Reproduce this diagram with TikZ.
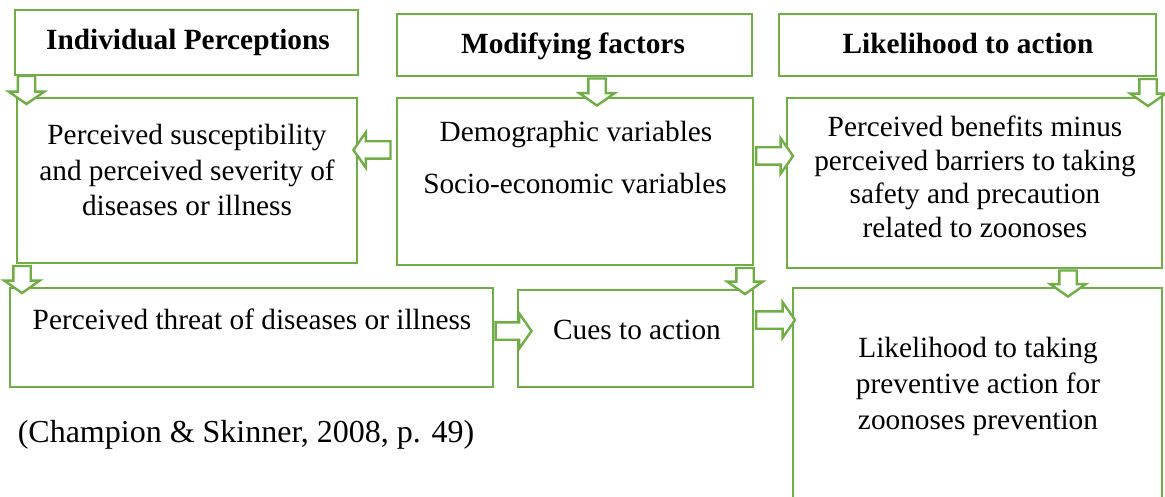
\documentclass[tikz,border=0pt]{standalone}
\usepackage{fontspec}
\setmainfont{Liberation Serif}
\usetikzlibrary{shapes.arrows}
\definecolor{grn}{HTML}{70AD47}
\tikzset{
  box/.style={draw=grn, line width=2.6pt, fill=white, inner sep=0pt},
  txt/.style={anchor=base, inner sep=0pt, font=\fontsize{32}{38}\selectfont, scale=0.9156, transform shape},
  hd/.style={txt, font=\fontsize{32}{38}\selectfont\bfseries},
  cite/.style={anchor=base, inner sep=0pt, font=\fontsize{32}{38}\selectfont},
  blk/.style={single arrow, draw=grn, fill=white, line width=2.4pt, inner sep=7.5pt,
    single arrow head extend=9pt, single arrow tip angle=110, minimum height=#1},
}
\begin{document}
\begin{tikzpicture}[x=1pt,y=-1pt]
\useasboundingbox (0,0) rectangle (1165,497);
% header boxes
\draw[box] (15,10) rectangle (358,75);
\draw[box] (397,14) rectangle (752,76);
\draw[box] (779,14) rectangle (1156,76);
% main boxes
\draw[box] (17,98) rectangle (357,263);
\draw[box] (397,98) rectangle (753,265);
\draw[box] (787,98) rectangle (1162,268);
\draw[box] (10,288) rectangle (493,387);
\draw[box] (518,290) rectangle (753,387);
\draw[box] (793,288) rectangle (1162,515);
% block arrows
\node[blk=28pt, rotate=-90] (a1) at (26.5,87) {};
\node[blk=27pt, rotate=-90] (a2) at (597,89) {};
\node[blk=27pt, rotate=-90] (a3) at (1148,89.5) {};
\node[blk=37pt, rotate=180] (a4) at (375,150) {};
\node[blk=37pt] (a5) at (771.5,156) {};
\node[blk=27pt, rotate=-90] (a6) at (22,276.5) {};
\node[blk=26pt, rotate=-90] (a7) at (745,278) {};
\node[blk=36pt] (a8) at (510.5,331) {};
\node[blk=39pt] (a9) at (772.5,320) {};
\node[blk=26pt, rotate=-90] (a10) at (1068,280.5) {};
% texts
\node[cite] (cit) at (246,442) {(Champion \& Skinner, 2008, p. 49)};
\node[hd] (t1) at (188,50) {Individual Perceptions};
\node[hd] (t2) at (573,54) {Modifying factors};
\node[hd] (t3) at (968,54) {Likelihood to action};
\node[txt] (t4a) at (187,145) {Perceived susceptibility};
\node[txt] (t4b) at (187,181) {and perceived severity of};
\node[txt] (t4c) at (187,216) {diseases or illness};
\node[txt] (t5a) at (576,142) {Demographic variables};
\node[txt] (t5b) at (575,194) {Socio-economic variables};
\node[txt] (t6a) at (975,137) {Perceived benefits minus};
\node[txt] (t6b) at (975,171) {perceived barriers to taking};
\node[txt] (t6c) at (975,204) {safety and precaution};
\node[txt] (t6d) at (975,238) {related to zoonoses};
\node[txt] (t7) at (252,329) {Perceived threat of diseases or illness};
\node[txt] (t8) at (637,339) {Cues to action};
\node[txt] (t9a) at (978,357) {Likelihood to taking};
\node[txt] (t9b) at (978,393) {preventive action for};
\node[txt] (t9c) at (978,429) {zoonoses prevention};
\end{tikzpicture}
\end{document}
